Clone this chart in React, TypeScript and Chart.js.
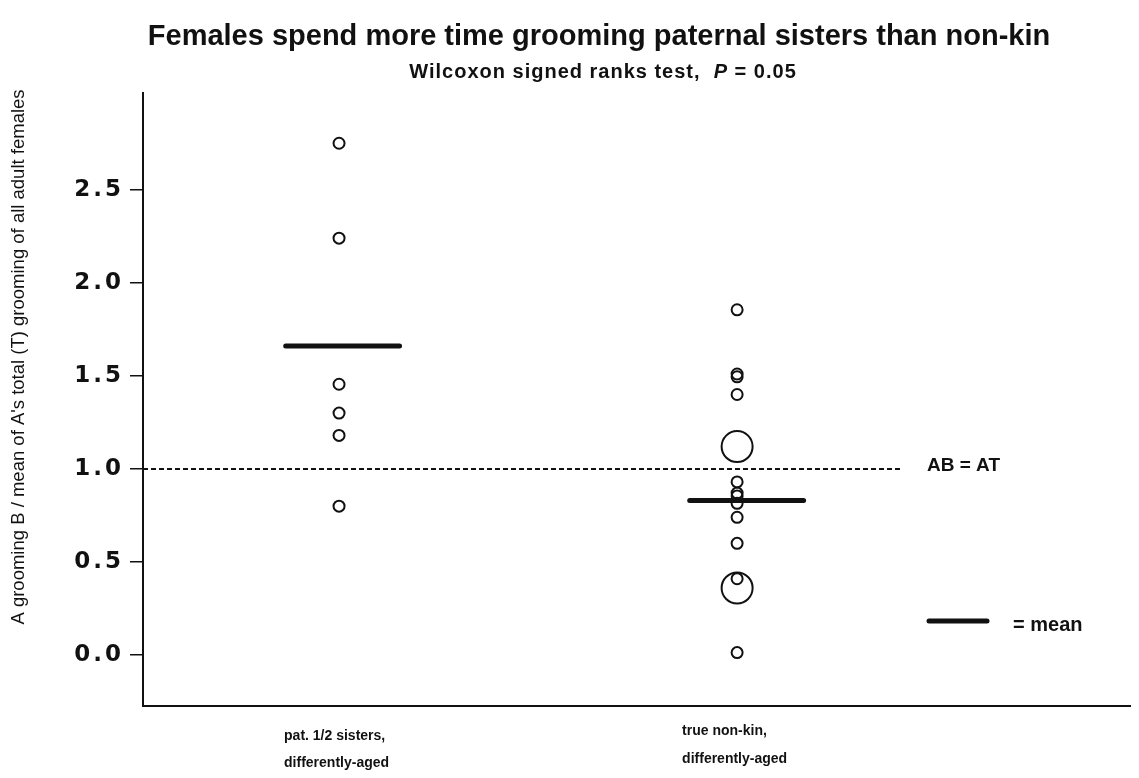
import React, { useEffect, useRef } from "react";
import { Chart, registerables } from "chart.js";

Chart.register(...registerables);

// ---------- data ----------
const categoryLabels: string[][] = [
  ["pat. 1/2 sisters,", "differently-aged"],
  ["true non-kin,", "differently-aged"],
];
const categoryPositions = [1, 2];
const sistersValues = [2.75, 2.24, 1.455, 1.3, 1.18, 0.8];
const nonKinValues = [1.855, 1.51, 1.495, 1.4, 0.93, 0.87, 0.855, 0.815, 0.74, 0.6, 0.41, 0.013];
const nonKinLargeValues = [1.12, 0.36];
const meanValues = [1.66, 0.83];
const referenceValue = 1.0;
const yTickValues = [0, 0.5, 1.0, 1.5, 2.0, 2.5];

const titleText = "Females spend more time grooming paternal sisters than non-kin";
const subtitleParts = ["Wilcoxon signed ranks test,  ", "P", " = 0.05"];
const yAxisTitle = "A grooming B / mean of A's total (T) grooming of all adult females";
const refLabel = "AB = AT";
const meanLegendLabel = "= mean";

// ---------- style / layout constants ----------
const FONT = "'Liberation Sans', Arial, sans-serif";
const TICK_FONT = "'DejaVu Sans', sans-serif";
const X_MIN = 0.5075;
const X_MAX = 2.987;
const Y_MIN = -0.274;
const Y_MAX = 3.02;
const MEAN_HALF = 0.143;
const MEAN_SHIFT = [0.009, 0.024];
const REF_END = 2.41;

export default function App() {
  const ref = useRef<HTMLCanvasElement | null>(null);

  useEffect(() => {
    if (!ref.current) return;

    const textPlugin = {
      id: "texts",
      beforeDraw(chart: any) {
        const ctx = chart.ctx;
        ctx.save();
        ctx.fillStyle = "#fff";
        ctx.fillRect(0, 0, chart.width, chart.height);
        ctx.restore();
        ctx.letterSpacing = "3px";
      },
      beforeDatasetsDraw(chart: any) {
        chart.ctx.letterSpacing = "0px";
      },
      afterDraw(chart: any) {
        const ctx = chart.ctx as any;
        const xs = chart.scales.x;
        ctx.save();
        ctx.fillStyle = "#111";
        ctx.textBaseline = "middle";

        // title
        ctx.letterSpacing = "0px";
        ctx.font = `bold 29px ${FONT}`;
        ctx.textAlign = "center";
        ctx.fillText(titleText, 599, 37);

        // subtitle with italic P
        ctx.letterSpacing = "1px";
        ctx.textAlign = "left";
        const f1 = `bold 20px ${FONT}`;
        const f2 = `bold italic 20px ${FONT}`;
        ctx.font = f1;
        const w0 = ctx.measureText(subtitleParts[0]).width;
        const w2 = ctx.measureText(subtitleParts[2]).width;
        ctx.font = f2;
        const w1 = ctx.measureText(subtitleParts[1]).width;
        let sx = 603 - (w0 + w1 + w2) / 2;
        ctx.font = f1;
        ctx.fillText(subtitleParts[0], sx, 72);
        sx += w0;
        ctx.font = f2;
        ctx.fillText(subtitleParts[1], sx, 72);
        sx += w1;
        ctx.font = f1;
        ctx.fillText(subtitleParts[2], sx, 72);
        ctx.letterSpacing = "0px";

        // y axis title
        ctx.save();
        ctx.translate(19, 357);
        ctx.rotate(-Math.PI / 2);
        ctx.textAlign = "center";
        ctx.font = `18.5px ${FONT}`;
        ctx.fillText(yAxisTitle, 0, 0);
        ctx.restore();

        // x category labels
        ctx.font = `bold 14px ${FONT}`;
        ctx.textAlign = "left";
        const lineYs = [
          [736, 763],
          [731, 759],
        ];
        categoryLabels.forEach((lines, i) => {
          const px = xs.getPixelForValue(categoryPositions[i]) - 55;
          lines.forEach((ln: string, j: number) => ctx.fillText(ln, px, lineYs[i][j]));
        });

        // reference label
        ctx.font = `bold 19px ${FONT}`;
        ctx.fillText(refLabel, 927, 466);

        // mean legend
        ctx.strokeStyle = "#111";
        ctx.lineWidth = 5;
        ctx.lineCap = "round";
        ctx.beginPath();
        ctx.moveTo(929, 621);
        ctx.lineTo(987, 621);
        ctx.stroke();
        ctx.font = `bold 20px ${FONT}`;
        ctx.fillText(meanLegendLabel, 1013, 625);
        ctx.restore();
      },
    };

    const circleStyle = {
      pointStyle: "circle" as const,
      backgroundColor: "rgba(0,0,0,0)",
      borderColor: "#111",
      pointBorderWidth: 2,
      showLine: false,
    };

    const chart = new Chart(ref.current, {
      type: "scatter",
      data: {
        datasets: [
          ...meanValues.map((m, i) => ({
            type: "line" as const,
            data: [
              { x: categoryPositions[i] + MEAN_SHIFT[i] - MEAN_HALF, y: m },
              { x: categoryPositions[i] + MEAN_SHIFT[i] + MEAN_HALF, y: m },
            ],
            borderColor: "#111",
            borderWidth: 5,
            borderCapStyle: "round" as const,
            pointRadius: 0,
            showLine: true,
          })),
          {
            type: "line" as const,
            data: [
              { x: X_MIN, y: referenceValue },
              { x: REF_END, y: referenceValue },
            ],
            borderColor: "#111",
            borderWidth: 2,
            borderDash: [5, 3],
            pointRadius: 0,
            showLine: true,
          },
          {
            ...circleStyle,
            data: sistersValues.map((v) => ({ x: categoryPositions[0], y: v })),
            pointRadius: 5.5,
          },
          {
            ...circleStyle,
            data: nonKinValues.map((v) => ({ x: categoryPositions[1], y: v })),
            pointRadius: 5.5,
          },
          {
            ...circleStyle,
            data: nonKinLargeValues.map((v) => ({ x: categoryPositions[1], y: v })),
            pointRadius: 15.5,
          },
        ],
      },
      options: {
        animation: false,
        responsive: false,
        events: [],
        layout: { autoPadding: false, padding: { top: 93, right: 9, bottom: 72, left: 0 } },
        plugins: {
          legend: { display: false },
          tooltip: { enabled: false },
          title: { display: false },
        },
        scales: {
          x: {
            type: "linear",
            min: X_MIN,
            max: X_MAX,
            grid: { display: false, drawTicks: false },
            border: { display: true, color: "#111", width: 2 },
            ticks: { display: false },
            afterFit(scale: any) {
              scale.height = 0;
              scale.paddingLeft = 0;
              scale.paddingRight = 0;
            },
          },
          y: {
            type: "linear",
            min: Y_MIN,
            max: Y_MAX,
            afterBuildTicks(scale: any) {
              scale.ticks = yTickValues.map((v) => ({ value: v }));
            },
            afterFit(scale: any) {
              scale.width = 143;
              scale.paddingTop = 0;
              scale.paddingBottom = 0;
            },
            grid: {
              drawOnChartArea: false,
              drawTicks: true,
              tickLength: 13,
              color: "#111",
              lineWidth: 1.5,
            },
            border: { display: true, color: "#111", width: 2 },
            ticks: {
              padding: 6,
              color: "#111",
              font: { family: TICK_FONT, size: 23, weight: "bold" },
              callback: (v: any) => Number(v).toFixed(1),
            },
          },
        },
      },
      plugins: [textPlugin],
    });

    return () => chart.destroy();
  }, []);

  return (
    <div style={{ position: "fixed", left: 0, top: 0, width: 1139, height: 778, background: "#fff" }}>
      <canvas ref={ref} width={1139} height={778} style={{ display: "block" }} />
    </div>
  );
}
